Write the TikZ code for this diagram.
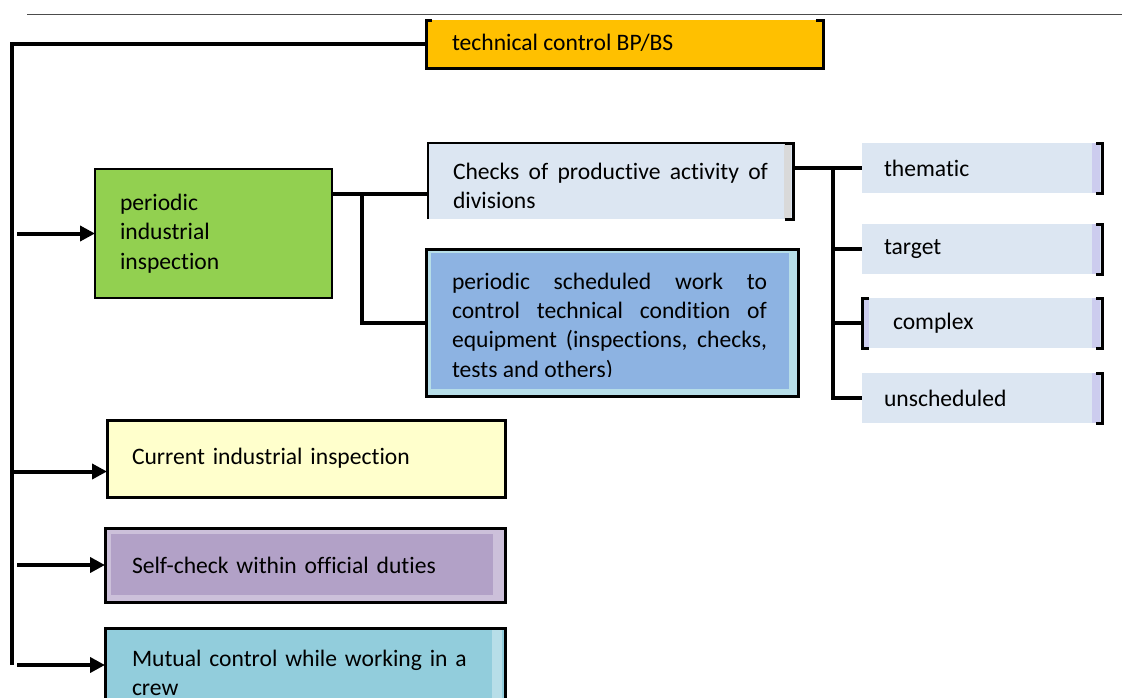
\documentclass[tikz,border=0pt]{standalone}
\usepackage{fontspec}
\setmainfont{Carlito}[Ligatures=NoCommon]
\usetikzlibrary{positioning,arrows.meta}
\hyphenpenalty=10000
\exhyphenpenalty=10000

\definecolor{topfill}{HTML}{FFC000}
\definecolor{greenfill}{HTML}{92D050}
\definecolor{palefill}{HTML}{DCE6F2}
\definecolor{lavstrip}{HTML}{CCCCEE}
\definecolor{greystrip}{HTML}{D9D9D9}
\definecolor{bluefill}{HTML}{8DB3E2}
\definecolor{cyanfill}{HTML}{B7DEE8}
\definecolor{yellowfill}{HTML}{FFFFCC}
\definecolor{lilacfill}{HTML}{B2A1C7}
\definecolor{lilacedge}{HTML}{CCC0DA}
\definecolor{tealfill}{HTML}{92CDDC}

\tikzset{
  unit/.style={rectangle, anchor=north west, inner ysep=0pt, outer sep=0pt, align=left,
    font=\fontsize{23.6}{29.3}\selectfont},
  framed/.style={unit, draw, line width=3pt},
  kind/.style={unit, fill=palefill, inner xsep=22pt, text width=196pt,
    minimum height=50pt,
    path picture={\fill[lavstrip] ([xshift=-10pt]path picture bounding box.north east)
      rectangle ([xshift=-2pt]path picture bounding box.south east);}},
  link/.style={line width=4pt},
  feed/.style={line width=4pt, -{Triangle[length=15pt,width=15pt]}},
  bracket/.style={line width=3pt},
}

\begin{document}
\begin{tikzpicture}[x=1pt, y=-1pt]
  \useasboundingbox (0,0) rectangle (1122,697);
  \draw[black!70, line width=1pt] (27,14) -- (1122,14);

  \node[unit, fill=topfill, minimum width=397pt, minimum height=48pt] (top) at (426,20) {};
  \begin{scope}
    \clip (426,20) rectangle (823,50);
    \node[unit, anchor=base west, inner xsep=0pt] (toptext) at (452,50.5) {technical control BP/BS};
  \end{scope}
  \draw[bracket] ([xshift=6pt]top.north west) -- (top.north west) -- (top.south west)
    -- (top.south east) -- (top.north east) -- ([xshift=-7pt]top.north east);

  \node[unit, draw, line width=2pt, fill=greenfill, text width=187pt, inner xsep=25pt,
    minimum height=129pt] (periodic) at (95,169) {periodic\\industrial\\inspection};

  \node[unit, fill=palefill, text width=315pt, inner xsep=25pt, minimum height=76pt,
    align=justify,
    path picture={\fill[greystrip] ([xshift=-9pt]path picture bounding box.north east)
      rectangle ([xshift=-2pt]path picture bounding box.south east);}]
    (checks) at (428,143) {\rule{0pt}{26pt}Checks of productive activity of divisions};
  \draw[line width=1.5pt] (checks.south west) -- (checks.north west) -- ([xshift=-8pt]checks.north east);
  \draw[bracket] ([xshift=-8pt]checks.north east) -- (checks.north east)
    -- (checks.south east) -- ([xshift=-8pt]checks.south east);

  \node[framed, fill=cyanfill, minimum width=372pt, minimum height=147pt,
    path picture={\fill[bluefill] ([shift={(5pt,-4pt)}]path picture bounding box.north west)
      rectangle ([shift={(-9pt,7pt)}]path picture bounding box.south east);}]
    (sched) at (426,249) {};
  \begin{scope}
    \clip (426,249) rectangle (798,376.5);
    \node[unit, anchor=center, text width=315pt, inner xsep=0pt, align=justify] (schedtext)
      at (609.5,326.5) {periodic scheduled work to control technical condition of
      equipment (inspections, checks, tests and others)};
  \end{scope}

  \node[kind] (thematic) at (862,143) {thematic};
  \node[kind, below=31pt of thematic] (target) {target};
  \node[kind, below=24pt of target] (complex) {\hspace{9pt}complex};
  \node[kind, below=25pt of complex] (unsched) {unscheduled};
  \foreach \n in {thematic,target,complex,unsched}
    \draw[bracket] ([xshift=-6pt]\n.north east) -- (\n.north east)
      -- (\n.south east) -- ([xshift=-6pt]\n.south east);
  \fill[lavstrip] (complex.north west) rectangle ([xshift=7pt]complex.south west);
  \draw[bracket] ([xshift=7pt]complex.north west) -- (complex.north west)
    -- (complex.south west) -- ([xshift=7pt]complex.south west);

  \node[framed, fill=yellowfill, minimum width=398pt, minimum height=77pt,
    inner xsep=25pt, text width=348pt] (current) at (107,420) {Current industrial inspection};

  \node[framed, fill=lilacedge, minimum width=400pt, minimum height=74pt,
    inner xsep=27pt, text width=346pt,
    path picture={\fill[lilacfill] ([shift={(6pt,-6pt)}]path picture bounding box.north west)
      rectangle ([shift={(-12pt,7pt)}]path picture bounding box.south east);}]
    (selfcheck) at (105,528) {Self-check within official duties};

  \node[framed, fill=tealfill, minimum width=400pt, minimum height=90pt,
    inner xsep=27pt, text width=346pt,
    path picture={\fill[cyanfill] ([xshift=-13pt]path picture bounding box.north east)
      rectangle ([xshift=-3pt]path picture bounding box.south east);}]
    (mutual) at (105,628) {Mutual control while working in a crew};

  \coordinate (trunkend) at (12,665);
  \draw[link] (top.west) -| (trunkend);
  \draw[feed] ([xshift=5pt]trunkend |- periodic.west) -- (periodic.west);
  \draw[feed] (trunkend |- current.west) ++(0,13) -- ([yshift=-13pt]current.west);
  \draw[feed] ([xshift=5pt]trunkend |- selfcheck.west) -- (selfcheck.west);
  \draw[feed] ([xshift=5pt]trunkend) -- (trunkend -| mutual.west);

  \coordinate (split) at (362,194);
  \draw[link] (periodic.east |- split) -- (split -| checks.west);
  \draw[link] (split) |- (sched.west);

  \coordinate (fork) at (833,170);
  \draw[link] (checks.east |- thematic.west) -- (thematic.west);
  \draw[link] (fork |- thematic.west) |- (unsched.west);
  \foreach \n in {target,complex}
    \draw[link] (fork |- \n.west) -- (\n.west);
\end{tikzpicture}
\end{document}
